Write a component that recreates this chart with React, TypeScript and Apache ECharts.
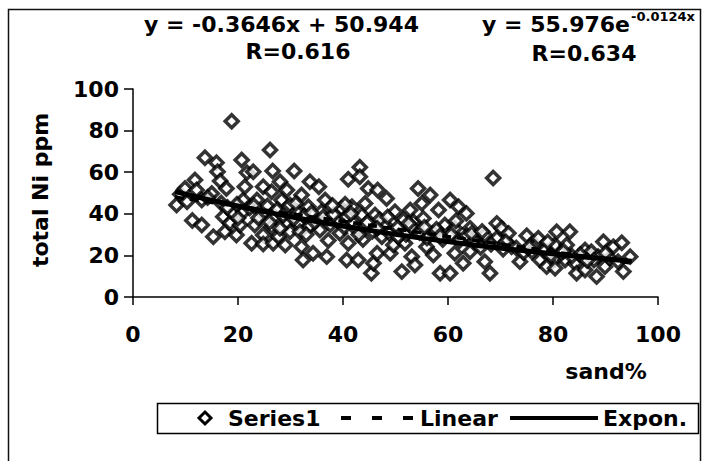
import React, { useEffect, useRef } from "react";
import * as echarts from "echarts";

// sand % (x) and total Ni ppm (y)
const sandX = [
  8.3, 9.0, 9.9, 10.3, 11.3, 11.8, 12.1, 13.1, 13.1, 13.7, 15.0, 15.3, 15.9, 16.1, 16.6, 17.2, 17.5, 17.8, 18.5, 18.8,
  19.1, 19.7, 20.4, 20.7, 21.0, 21.0, 21.3, 21.7, 22.9, 22.6, 23.2, 23.6, 24.8, 24.8, 24.8, 24.8, 26.1, 26.6, 26.4, 27.0,
  26.4, 26.7, 27.7, 28.0, 28.3, 29.3, 29.3, 29.0, 29.9, 29.9, 30.7, 31.2, 31.5, 31.8, 32.1, 32.1, 32.4, 33.4, 33.7, 33.7,
  34.3, 35.0, 35.6, 35.9, 36.6, 36.9, 39.1, 39.4, 39.7, 40.7, 40.7, 41.0, 41.0, 41.7, 42.0, 42.9, 43.2, 43.2, 43.6, 44.2,
  44.8, 45.4, 45.8, 46.1, 46.5, 46.6, 47.4, 48.0, 48.3, 49.0, 49.6, 49.9, 51.2, 51.5, 51.8, 52.8, 53.1, 53.4, 53.7, 54.3,
  55.3, 55.9, 56.6, 57.2, 57.2, 58.2, 58.5, 59.4, 60.4, 60.4, 61.3, 61.3, 62.0, 62.9, 63.5, 64.2, 64.2, 65.8, 67.0, 67.0,
  68.0, 68.6, 69.3, 69.3, 70.2, 71.5, 72.1, 73.7, 75.0, 76.6, 77.2, 77.5, 78.8, 80.4, 80.4, 80.4, 80.7, 82.3, 82.6, 83.2,
  84.2, 84.5, 86.1, 86.1, 87.3, 88.3, 88.6, 89.6, 89.9, 91.5, 93.1, 93.4, 94.7,
  14.2, 16.8, 18.0, 19.8, 22.2, 23.9, 25.6, 27.4, 28.6, 30.6, 32.6, 34.6, 36.2, 37.6, 38.2, 40.2, 42.6, 44.6, 45.6, 47.0,
  48.8, 50.4, 52.0, 53.0, 54.6, 56.0, 57.8, 59.0, 60.6, 62.2, 63.6, 65.0, 66.2, 68.2, 71.0, 73.0, 74.4, 76.0, 78.4, 79.6,
  81.6, 83.6, 85.2, 87.8, 90.8, 92.4, 40.4, 37.2, 43.8, 55.0, 35.4,
  20.0, 23.0, 26.0, 28.0, 31.0, 33.0, 34.0, 38.0, 41.5, 43.0, 46.5, 48.5, 50.5, 52.5, 55.5, 58.5, 61.5, 64.5, 66.5, 70.5,
  75.5, 79.0, 82.0, 86.5, 90.0,
];
const niY = [
  44.2, 49.4, 52.2, 45.8, 36.8, 56.3, 51.4, 46.6, 34.6, 66.9, 49.8, 29.0, 64.6, 60.2, 55.8, 38.6, 31.4, 52.2, 35.6, 84.5,
  40.2, 29.8, 34.6, 65.9, 41.0, 46.6, 53.0, 59.8, 60.2, 25.8, 34.6, 46.6, 53.0, 40.2, 29.8, 25.5, 70.7, 60.6, 50.6, 38.6,
  33.8, 25.8, 29.0, 55.4, 46.6, 51.4, 35.4, 25.0, 44.2, 31.4, 60.6, 41.0, 35.4, 31.4, 49.0, 24.2, 17.8, 43.4, 55.4, 34.1,
  21.0, 37.0, 32.2, 41.0, 46.6, 19.4, 36.2, 30.6, 42.6, 38.6, 17.8, 56.6, 25.8, 43.4, 35.4, 17.8, 62.4, 57.8, 39.4, 45.0,
  52.2, 11.4, 16.2, 39.4, 21.0, 51.4, 29.0, 34.6, 47.4, 21.0, 25.0, 41.0, 12.2, 37.0, 25.8, 41.8, 19.4, 36.2, 15.4, 52.2,
  37.8, 24.2, 49.0, 30.6, 20.2, 41.8, 11.4, 34.6, 46.6, 11.4, 33.0, 21.0, 43.4, 16.2, 40.2, 33.0, 21.8, 25.8, 29.8, 17.0,
  11.4, 57.2, 35.4, 28.2, 33.0, 30.6, 24.2, 17.0, 29.4, 25.0, 28.2, 17.8, 14.6, 25.0, 18.1, 13.8, 31.4, 17.8, 25.0, 31.4,
  16.2, 11.4, 22.6, 13.0, 21.8, 9.8, 19.4, 26.6, 14.6, 24.2, 26.1, 12.2, 19.4,
  47.8, 45.2, 43.0, 44.6, 42.8, 38.0, 43.8, 42.0, 39.2, 37.6, 39.0, 36.0, 38.4, 34.8, 39.6, 33.6, 32.4, 35.8, 31.6, 37.2,
  30.8, 33.4, 30.0, 33.8, 31.0, 28.4, 32.6, 27.6, 30.0, 27.2, 29.6, 27.0, 23.8, 25.4, 26.6, 23.6, 21.4, 21.8, 22.4, 20.0,
  21.2, 19.6, 20.4, 17.8, 18.6, 17.0, 44.6, 27.2, 27.6, 45.0, 53.0,
  38.0, 44.0, 36.0, 33.0, 45.0, 30.0, 40.5, 44.0, 40.0, 30.0, 33.0, 38.5, 29.0, 35.5, 33.5, 29.5, 36.5, 30.5, 31.5, 23.0,
  24.0, 26.5, 22.0, 17.5, 21.0,
];

// trendline coefficients as printed on the chart
const linSlope = -0.3646;
const linIntercept = 50.944;
const expA = 55.976;
const expB = -0.0124;
const trendX = [8, 15, 25, 35, 45, 55, 65, 75, 85, 95];

const xTicks = [0, 20, 40, 60, 80, 100];
const yTicks = [0, 20, 40, 60, 80, 100];

const FONT = "DejaVu Sans";

export default function App() {
  const ref = useRef<HTMLDivElement>(null);
  useEffect(() => {
    if (!ref.current) return;
    const chart = echarts.init(ref.current, null, { renderer: "svg" });
    const points = sandX.map((x, i) => [x, niY[i]]);
    const linData = trendX.map((x) => [x, linSlope * x + linIntercept]);
    const expData = trendX.map((x) => [x, expA * Math.exp(expB * x)]);
    const txt = (t: string, x: number, y: number, size = 22, align = "left", extra: any = {}) => ({
      type: "text",
      x,
      y,
      ...extra,
      style: {
        text: t,
        fill: "#000",
        font: `bold ${size}px "${FONT}"`,
        textAlign: align,
        textVerticalAlign: "middle",
      },
    });
    chart.setOption({
      animation: false,
      backgroundColor: "#fff",
      grid: { left: 133, right: 44, top: 89, bottom: 164, containLabel: false },
      xAxis: {
        type: "value",
        min: xTicks[0],
        max: xTicks[xTicks.length - 1],
        interval: 20,
        axisLine: { show: true, onZero: false, lineStyle: { color: "#000", width: 1.5 } },
        axisTick: { show: true, inside: false, length: 8, lineStyle: { color: "#000", width: 1.5 } },
        axisLabel: { color: "#000", fontFamily: FONT, fontWeight: "bold", fontSize: 22, margin: 26 },
        splitLine: { show: false },
      },
      yAxis: {
        type: "value",
        min: yTicks[0],
        max: yTicks[yTicks.length - 1],
        interval: 20,
        axisLine: { show: true, onZero: false, lineStyle: { color: "#000", width: 1.5 } },
        axisTick: { show: true, inside: false, length: 9, lineStyle: { color: "#000", width: 1.5 } },
        axisLabel: { color: "#000", fontFamily: FONT, fontWeight: "bold", fontSize: 22, margin: 14 },
        splitLine: { show: false },
      },
      series: [
        {
          name: "Series1",
          type: "scatter",
          data: points,
          symbol: "diamond",
          symbolSize: 13,
          itemStyle: { color: "#fff", borderColor: "#000", borderWidth: 3.5 },
          z: 2,
        },
        {
          name: "Linear",
          type: "line",
          data: linData,
          showSymbol: false,
          lineStyle: { color: "#000", width: 3.5, type: [9, 6] },
          z: 3,
        },
        {
          name: "Expon.",
          type: "line",
          data: expData,
          smooth: true,
          showSymbol: false,
          lineStyle: { color: "#000", width: 5 },
          z: 4,
        },
      ],
      graphic: [
        {
          type: "rect",
          shape: { x: 8.5, y: 9.5, width: 692, height: 470 },
          style: { fill: "none", stroke: "#111", lineWidth: 1.5 },
          silent: true,
        },
        txt("y = -0.3646x + 50.944", 144, 24),
        txt("R=0.616", 298, 51, 22, "center"),
        txt("y = 55.976e", 630, 24, 22, "right"),
        txt("-0.0124x", 631, 16, 13),
        txt("R=0.634", 584, 53, 22, "center"),
        txt("total Ni ppm", 40, 190, 22, "center", { rotation: Math.PI / 2 }),
        txt("sand%", 606, 371, 22, "center"),
        {
          type: "rect",
          shape: { x: 157.5, y: 403.5, width: 541, height: 30 },
          style: { fill: "#fff", stroke: "#000", lineWidth: 1.5 },
        },
        {
          type: "polygon",
          shape: { points: [[205, 412], [211, 418], [205, 424], [199, 418]] },
          style: { fill: "#fff", stroke: "#000", lineWidth: 3 },
        },
        txt("Series1", 228, 418),
        {
          type: "line",
          shape: { x1: 341, y1: 418, x2: 413, y2: 418 },
          style: { stroke: "#000", lineWidth: 4, lineDash: [10, 21] },
        },
        txt("Linear", 420, 418),
        {
          type: "line",
          shape: { x1: 510, y1: 418, x2: 598, y2: 418 },
          style: { stroke: "#000", lineWidth: 4 },
        },
        txt("Expon.", 603, 418),
      ],
    });
    return () => chart.dispose();
  }, []);
  return <div ref={ref} style={{ position: "absolute", left: 0, top: 0, width: 702, height: 461 }} />;
}
